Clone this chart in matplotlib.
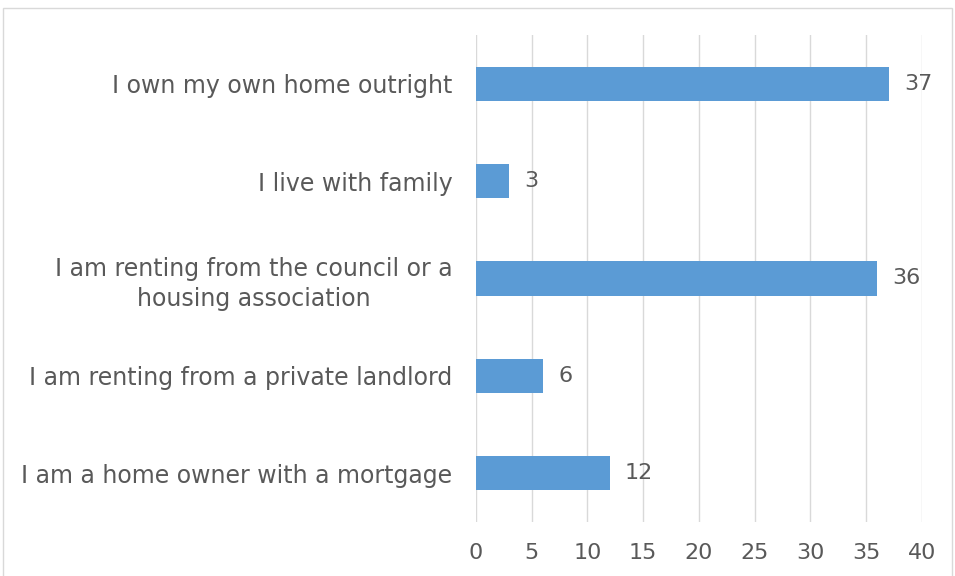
import matplotlib.pyplot as plt
from matplotlib.patches import Rectangle

categories = [
    "I am a home owner with a mortgage",
    "I am renting from a private landlord",
    "I am renting from the council or a\nhousing association",
    "I live with family",
    "I own my own home outright",
]
counts = [12, 6, 36, 3, 37]
xticks = [0, 5, 10, 15, 20, 25, 30, 35, 40]

plt.rcParams['font.family'] = ['DejaVu Sans']
text_col = '#595959'
fs = 17
num_fs = 16

fig = plt.figure(figsize=(9.55, 5.76), dpi=100)
ax = fig.add_axes([0.4984, 0.094, 0.467, 0.845])

y = range(len(categories))
ax.barh(y, counts, height=0.35, color='#5B9BD5', zorder=2)

for yi, v in zip(y, counts):
    ax.annotate(str(v), (v, yi), xytext=(11, 0), textcoords='offset points',
                va='center', ha='left', fontsize=num_fs, color=text_col)

ax.set_xlim(0, 40)
ax.set_ylim(-0.5, 4.5)
ax.set_xticks(xticks)
ax.set_yticks(list(y))
ax.set_yticklabels(categories, fontsize=fs, color=text_col, ha='right',
                   multialignment='center', linespacing=1.3)
ax.tick_params(axis='x', labelsize=num_fs, labelcolor=text_col, length=0, pad=15)
ax.tick_params(axis='y', length=0, pad=17)
ax.grid(axis='x', color='#D9D9D9', linewidth=1.0, zorder=0)
for s in ax.spines.values():
    s.set_visible(False)

# chart area border
fig.patches.append(Rectangle((3 / 955, -0.01), 949 / 955, 1 - 8 / 576 + 0.01,
                             transform=fig.transFigure, fill=False,
                             edgecolor='#D9D9D9', linewidth=1.0))

fig.savefig('out.png', dpi=100)
